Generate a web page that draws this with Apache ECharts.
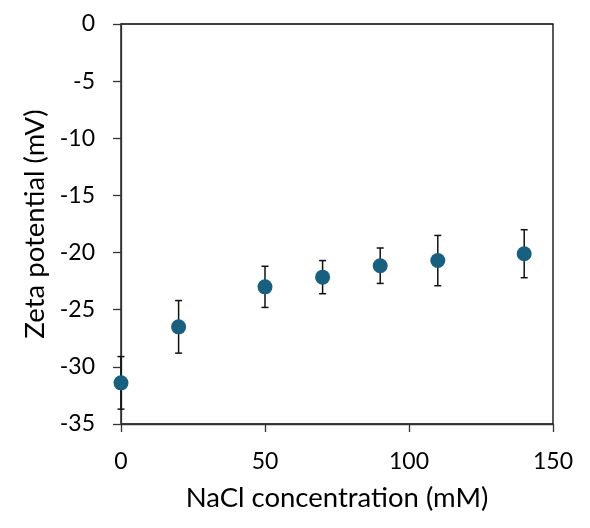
<!DOCTYPE html>
<html>
<head>
<meta charset="utf-8">
<script src="https://cdn.jsdelivr.net/npm/echarts@6/dist/echarts.min.js"></script>
<style>
  html, body { margin: 0; padding: 0; background: #fff; }
  #chart { width: 590px; height: 528px; }
</style>
</head>
<body>
<div id="chart"></div>
<script>
// NaCl concentration (mM) vs zeta potential (mV), mean +/- error
var concentration = [0, 20, 50, 70, 90, 110, 140];
var zetaMean = [-31.4, -26.5, -23.0, -22.15, -21.15, -20.7, -20.1];
var zetaErr = [2.3, 2.3, 1.8, 1.45, 1.55, 2.2, 2.1];
var yTicks = [0, -5, -10, -15, -20, -25, -30, -35];

var ink = '#000';
var font = "Lato, 'Open Sans', sans-serif";

var chart = echarts.init(document.getElementById('chart'), null, { renderer: 'canvas' });

var points = concentration.map(function (c, i) { return [c, zetaMean[i]]; });
var bars = concentration.map(function (c, i) { return [c, zetaMean[i] - zetaErr[i], zetaMean[i] + zetaErr[i]]; });

chart.setOption({
  animation: false,
  backgroundColor: '#fff',
  grid: { left: 121, right: 37, top: 24, bottom: 104, show: true, borderColor: ink, borderWidth: 1.3, containLabel: false },
  xAxis: {
    type: 'value', min: 0, max: 150, interval: 50,
    name: 'NaCl concentration (mM)', nameLocation: 'middle', nameGap: 60,
    nameTextStyle: { color: ink, fontSize: 27.5, fontFamily: font },
    axisLine: { show: true, onZero: false, lineStyle: { color: '#333', width: 1.3 } },
    axisTick: { show: true, inside: false, length: 8, lineStyle: { color: '#333', width: 1.3 } },
    axisLabel: { color: ink, fontSize: 23, fontFamily: font, margin: 26 },
    splitLine: { show: false }
  },
  yAxis: {
    type: 'value', min: -35, max: 0, interval: 5,
    name: 'Zeta potential (mV)', nameLocation: 'middle', nameGap: 67,
    nameTextStyle: { color: ink, fontSize: 27.5, fontFamily: font },
    axisLine: { show: true, onZero: false, lineStyle: { color: '#333', width: 1.3 } },
    axisTick: { show: true, inside: false, length: 8, lineStyle: { color: '#333', width: 1.3 } },
    axisLabel: { color: ink, fontSize: 23, fontFamily: font, margin: 26,
      formatter: function (v) { return yTicks.indexOf(v) >= 0 ? String(v) : ''; } },
    splitLine: { show: false }
  },
  series: [
    {
      type: 'custom',
      data: bars,
      z: 3,
      renderItem: function (params, api) {
        var lo = api.coord([api.value(0), api.value(1)]);
        var hi = api.coord([api.value(0), api.value(2)]);
        var cap = 3.5;
        var style = { stroke: '#111', lineWidth: 1.5 };
        return {
          type: 'group',
          children: [
            { type: 'line', shape: { x1: lo[0], y1: lo[1], x2: hi[0], y2: hi[1] }, style: style },
            { type: 'line', shape: { x1: lo[0] - cap, y1: lo[1], x2: lo[0] + cap, y2: lo[1] }, style: style },
            { type: 'line', shape: { x1: hi[0] - cap, y1: hi[1], x2: hi[0] + cap, y2: hi[1] }, style: style }
          ]
        };
      }
    },
    {
      type: 'scatter',
      data: points,
      z: 4,
      symbol: 'circle',
      symbolSize: 15,
      itemStyle: { color: '#185f80', opacity: 1 }
    }
  ]
});
</script>
</body>
</html>
